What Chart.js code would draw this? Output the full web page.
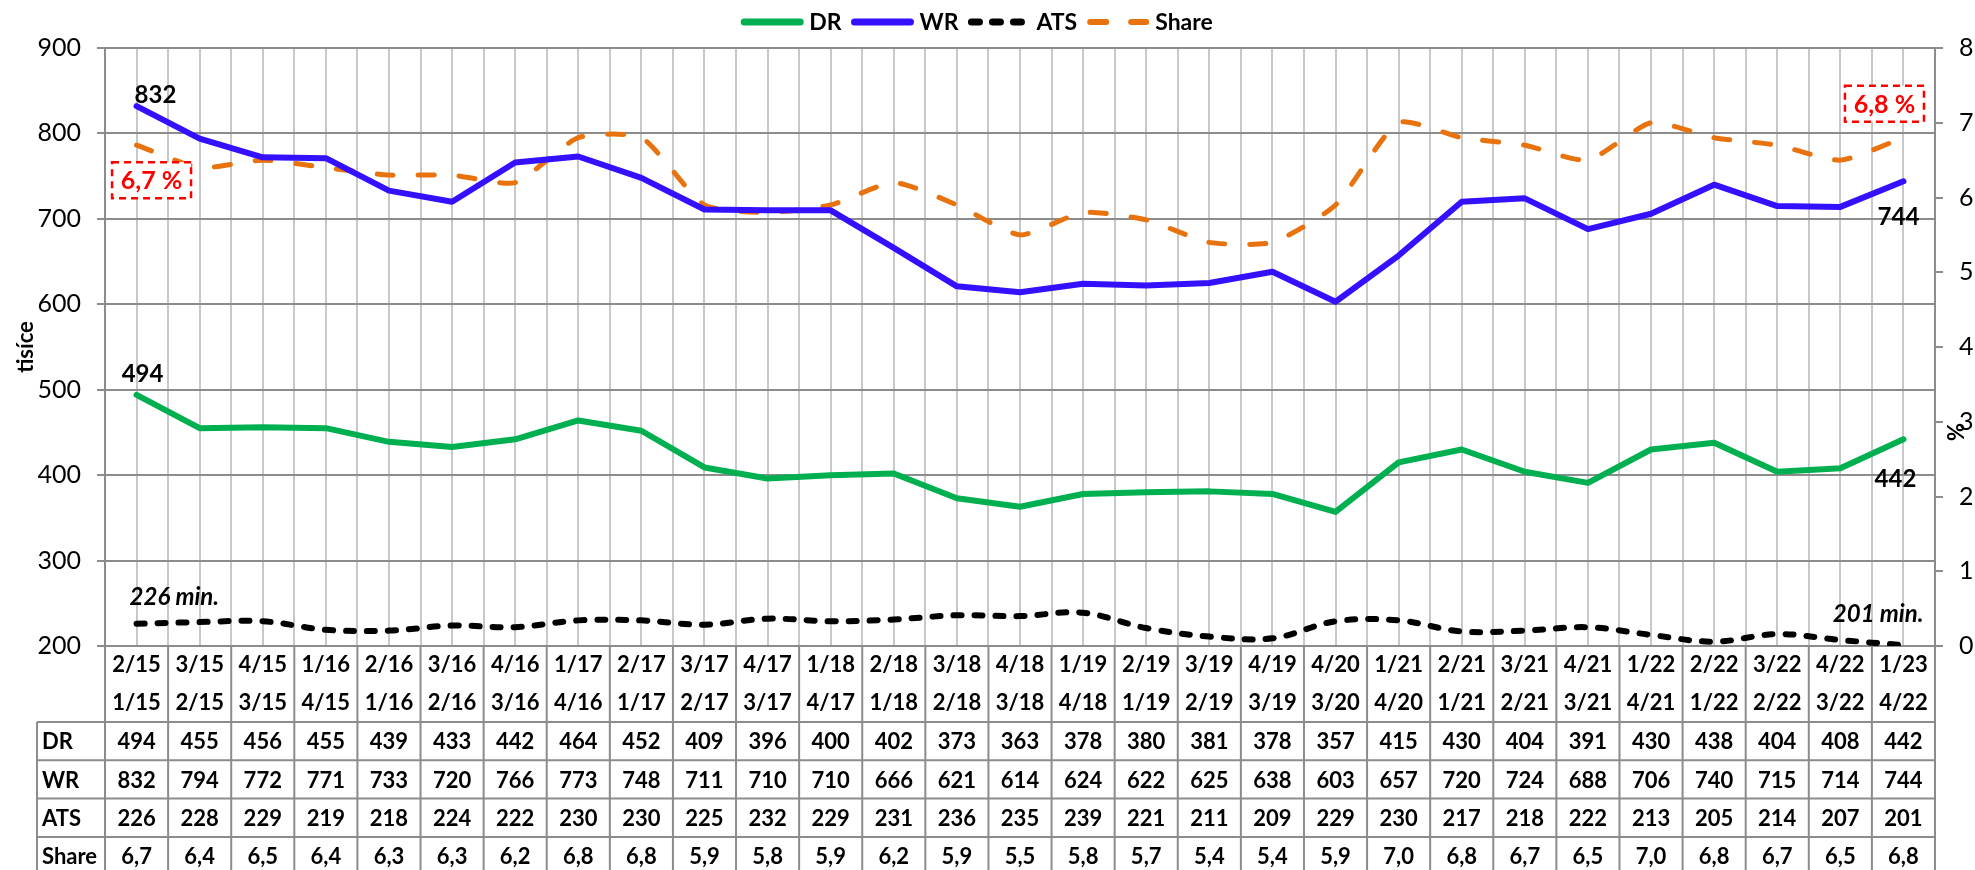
<!DOCTYPE html>
<html><head><meta charset="utf-8">
<script src="https://cdn.jsdelivr.net/npm/chart.js@4.4.0/dist/chart.umd.min.js"></script>
<style>html,body{margin:0;padding:0;background:#fff}#wrap{width:1975px;height:870px;position:relative}</style>
</head><body><div id="wrap"><canvas id="c" width="1975" height="870"></canvas></div>
<script>
const periods = ['2/15','3/15','4/15','1/16','2/16','3/16','4/16','1/17','2/17','3/17','4/17','1/18','2/18','3/18','4/18','1/19','2/19','3/19','4/19','4/20','1/21','2/21','3/21','4/21','1/22','2/22','3/22','4/22','1/23'];
const prevPeriods = ['1/15','2/15','3/15','4/15','1/16','2/16','3/16','4/16','1/17','2/17','3/17','4/17','1/18','2/18','3/18','4/18','1/19','2/19','3/19','3/20','4/20','1/21','2/21','3/21','4/21','1/22','2/22','3/22','4/22'];
const dr = [494,455,456,455,439,433,442,464,452,409,396,400,402,373,363,378,380,381,378,357,415,430,404,391,430,438,404,408,442];
const wr = [832,794,772,771,733,720,766,773,748,711,710,710,666,621,614,624,622,625,638,603,657,720,724,688,706,740,715,714,744];
const ats = [226,228,229,219,218,224,222,230,230,225,232,229,231,236,235,239,221,211,209,229,230,217,218,222,213,205,214,207,201];
const share = [6.7,6.4,6.5,6.4,6.3,6.3,6.2,6.8,6.8,5.9,5.8,5.9,6.2,5.9,5.5,5.8,5.7,5.4,5.4,5.9,7.0,6.8,6.7,6.5,7.0,6.8,6.7,6.5,6.8];
const seriesNames = ['DR','WR','ATS','Share'];
const seriesDecimals = [0, 0, 0, 1];
const leftAxisTitle = 'tisíce';
const rightAxisTitle = '%';

const fmt = (v, d) => v.toFixed(d).replace('.', ',');
const pts = arr => arr.map((v, i) => ({x: i, y: v}));
const FONT = 'Lato';

const tablePlugin = {
  id: 'tablePlugin',
  afterDraw(chart) {
    const ctx = chart.ctx;
    const xs = chart.scales.x, yl = chart.scales.y, yr = chart.scales.y1;
    const area = chart.chartArea;
    const n = periods.length;
    const top = area.bottom;
    const rows = [top + 76, top + 114.3, top + 152.6, top + 191, top + 229.3];
    const leftX = 37;
    ctx.save();
    ctx.strokeStyle = '#8c8c8c';
    ctx.lineWidth = 2;
    ctx.beginPath();
    rows.forEach(y => { ctx.moveTo(leftX, y); ctx.lineTo(area.right, y); });
    ctx.moveTo(leftX, rows[0]); ctx.lineTo(leftX, rows[4]);
    for (let i = 0; i <= n; i++) {
      const x = xs.getPixelForValue(i - 0.5);
      ctx.moveTo(x, top); ctx.lineTo(x, rows[4]);
    }
    ctx.stroke();
    // texts
    ctx.fillStyle = '#000';
    ctx.font = 'bold 22px ' + FONT;
    ctx.textBaseline = 'middle';
    ctx.textAlign = 'center';
    for (let i = 0; i < n; i++) {
      const x = xs.getPixelForValue(i);
      ctx.fillText(periods[i], x, top + 19);
      ctx.fillText(prevPeriods[i], x, top + 57);
    }
    const tableData = [dr, wr, ats, share];
    tableData.forEach((arr, r) => {
      const yc = (rows[r] + rows[r + 1]) / 2 + 1;
      ctx.textAlign = 'left';
      ctx.fillText(seriesNames[r], leftX + 5, yc);
      ctx.textAlign = 'center';
      arr.forEach((v, i) => ctx.fillText(fmt(v, seriesDecimals[r]), xs.getPixelForValue(i), yc));
    });
    // axis titles
    ctx.font = 'bold 22px ' + FONT;
    ctx.save();
    ctx.translate(26, (area.top + area.bottom) / 2);
    ctx.rotate(-Math.PI / 2);
    ctx.textAlign = 'center'; ctx.textBaseline = 'middle';
    ctx.fillText(leftAxisTitle, 0, 0);
    ctx.restore();
    ctx.save();
    ctx.translate(1957, 432);
    ctx.rotate(-Math.PI / 2);
    ctx.textAlign = 'center'; ctx.textBaseline = 'middle';
    ctx.fillText(rightAxisTitle, 0, 0);
    ctx.restore();
    // data labels
    const last = n - 1;
    const x0 = xs.getPixelForValue(0), xl = xs.getPixelForValue(last);
    ctx.font = 'bold 24px ' + FONT;
    ctx.textBaseline = 'alphabetic';
    ctx.textAlign = 'left';
    ctx.fillText(fmt(wr[0], 0), x0 - 2, yl.getPixelForValue(wr[0]) - 3);
    ctx.textAlign = 'center';
    ctx.fillText(fmt(dr[0], 0), x0 + 6, yl.getPixelForValue(dr[0]) - 13);
    ctx.fillText(fmt(wr[last], 0), xl - 5, yl.getPixelForValue(wr[last]) + 44);
    ctx.fillText(fmt(dr[last], 0), xl - 8, yl.getPixelForValue(dr[last]) + 48);
    ctx.font = 'italic bold 24px ' + FONT;
    ctx.textAlign = 'left';
    ctx.fillText(ats[0] + ' min.', x0 - 7, yl.getPixelForValue(ats[0]) - 19);
    ctx.textAlign = 'right';
    ctx.fillText(ats[last] + ' min.', xl + 20, yl.getPixelForValue(ats[last]) - 23);
    // share boxes
    const box = (cx, cy, txt) => {
      const w = 79, h = 36;
      ctx.save();
      ctx.fillStyle = '#fff';
      ctx.fillRect(cx - w / 2, cy - h / 2, w, h);
      ctx.strokeStyle = '#ff0000';
      ctx.lineWidth = 2.5;
      ctx.setLineDash([7, 5]);
      ctx.strokeRect(cx - w / 2, cy - h / 2, w, h);
      ctx.setLineDash([]);
      ctx.fillStyle = '#ff0000';
      ctx.font = 'bold 25px ' + FONT;
      ctx.textAlign = 'center'; ctx.textBaseline = 'middle';
      ctx.fillText(txt, cx, cy + 1);
      ctx.restore();
    };
    box(x0 + 15, yr.getPixelForValue(share[0]) + 35, fmt(share[0], 1) + ' %');
    box(xl - 19, yr.getPixelForValue(share[last]) - 34, fmt(share[last], 1) + ' %');
    // legend (drawn from dataset styles)
    ctx.font = 'bold 23px ' + FONT;
    const lineLen = 62, gapText = 6, gapItem = 10;
    const metas = chart.data.datasets;
    let total = 0;
    metas.forEach(ds => { total += lineLen + gapText + ctx.measureText(ds.label).width + gapItem; });
    total -= gapItem;
    let lx = 977 - total / 2;
    const ly = 22;
    metas.forEach(ds => {
      ctx.save();
      ctx.strokeStyle = ds.borderColor;
      ctx.lineWidth = ds.borderWidth + 1;
      ctx.lineCap = 'round';
      ctx.setLineDash(ds.borderDash || []);
      ctx.beginPath();
      ctx.moveTo(lx + 3, ly); ctx.lineTo(lx + lineLen - 3, ly);
      ctx.stroke();
      ctx.restore();
      lx += lineLen + gapText;
      ctx.fillStyle = '#000';
      ctx.textAlign = 'left'; ctx.textBaseline = 'middle';
      ctx.fillText(ds.label, lx, ly + 1);
      lx += ctx.measureText(ds.label).width + gapItem;
    });
    ctx.restore();
  }
};

const gridGray = '#8c8c8c';
new Chart(document.getElementById('c'), {
  type: 'line',
  data: {
    datasets: [
      {label: seriesNames[0], data: pts(dr), yAxisID: 'y', borderColor: '#00b050', backgroundColor: '#00b050', borderWidth: 6, pointRadius: 0, borderCapStyle: 'round', borderJoinStyle: 'round', tension: 0},
      {label: seriesNames[1], data: pts(wr), yAxisID: 'y', borderColor: '#3311ff', backgroundColor: '#3311ff', borderWidth: 6, pointRadius: 0, borderCapStyle: 'round', borderJoinStyle: 'round', tension: 0},
      {label: seriesNames[2], data: pts(ats), yAxisID: 'y', borderColor: '#000000', backgroundColor: '#000000', borderWidth: 6, borderDash: [8, 13], pointRadius: 0, borderCapStyle: 'round', borderJoinStyle: 'round', tension: 0.35},
      {label: seriesNames[3], data: pts(share), yAxisID: 'y1', borderColor: '#e8730e', backgroundColor: '#e8730e', borderWidth: 5, borderDash: [16, 25], pointRadius: 0, borderCapStyle: 'round', borderJoinStyle: 'round', tension: 0.2}
    ]
  },
  options: {
    responsive: false,
    animation: false,
    devicePixelRatio: 1,
    layout: {padding: {top: 48, left: 0, right: 0, bottom: 0}},
    plugins: {
      legend: {display: false},
      tooltip: {enabled: false}
    },
    scales: {
      x: {
        type: 'linear', min: -0.5, max: 28.5,
        ticks: {stepSize: 0.5, maxTicksLimit: 100, display: false},
        grid: {color: '#c8c8c8', lineWidth: 2, drawTicks: false},
        border: {display: true, color: gridGray, width: 2},
        afterFit(s) { s.height = 224; }
      },
      y: {
        position: 'left', min: 200, max: 900,
        ticks: {stepSize: 100, color: '#000', padding: 16, font: {family: FONT, size: 25}},
        grid: {color: gridGray, lineWidth: 2, tickLength: 8, drawTicks: true},
        border: {display: true, color: gridGray, width: 2},
        afterFit(s) { s.width = 105; }
      },
      y1: {
        position: 'right', min: 0, max: 8,
        ticks: {stepSize: 1, color: '#000', padding: 16, font: {family: FONT, size: 25}},
        grid: {drawOnChartArea: false, color: gridGray, lineWidth: 2, tickLength: 8, drawTicks: true},
        border: {display: true, color: gridGray, width: 2},
        afterFit(s) { s.width = 40; }
      }
    }
  },
  plugins: [tablePlugin]
});
</script></body></html>
